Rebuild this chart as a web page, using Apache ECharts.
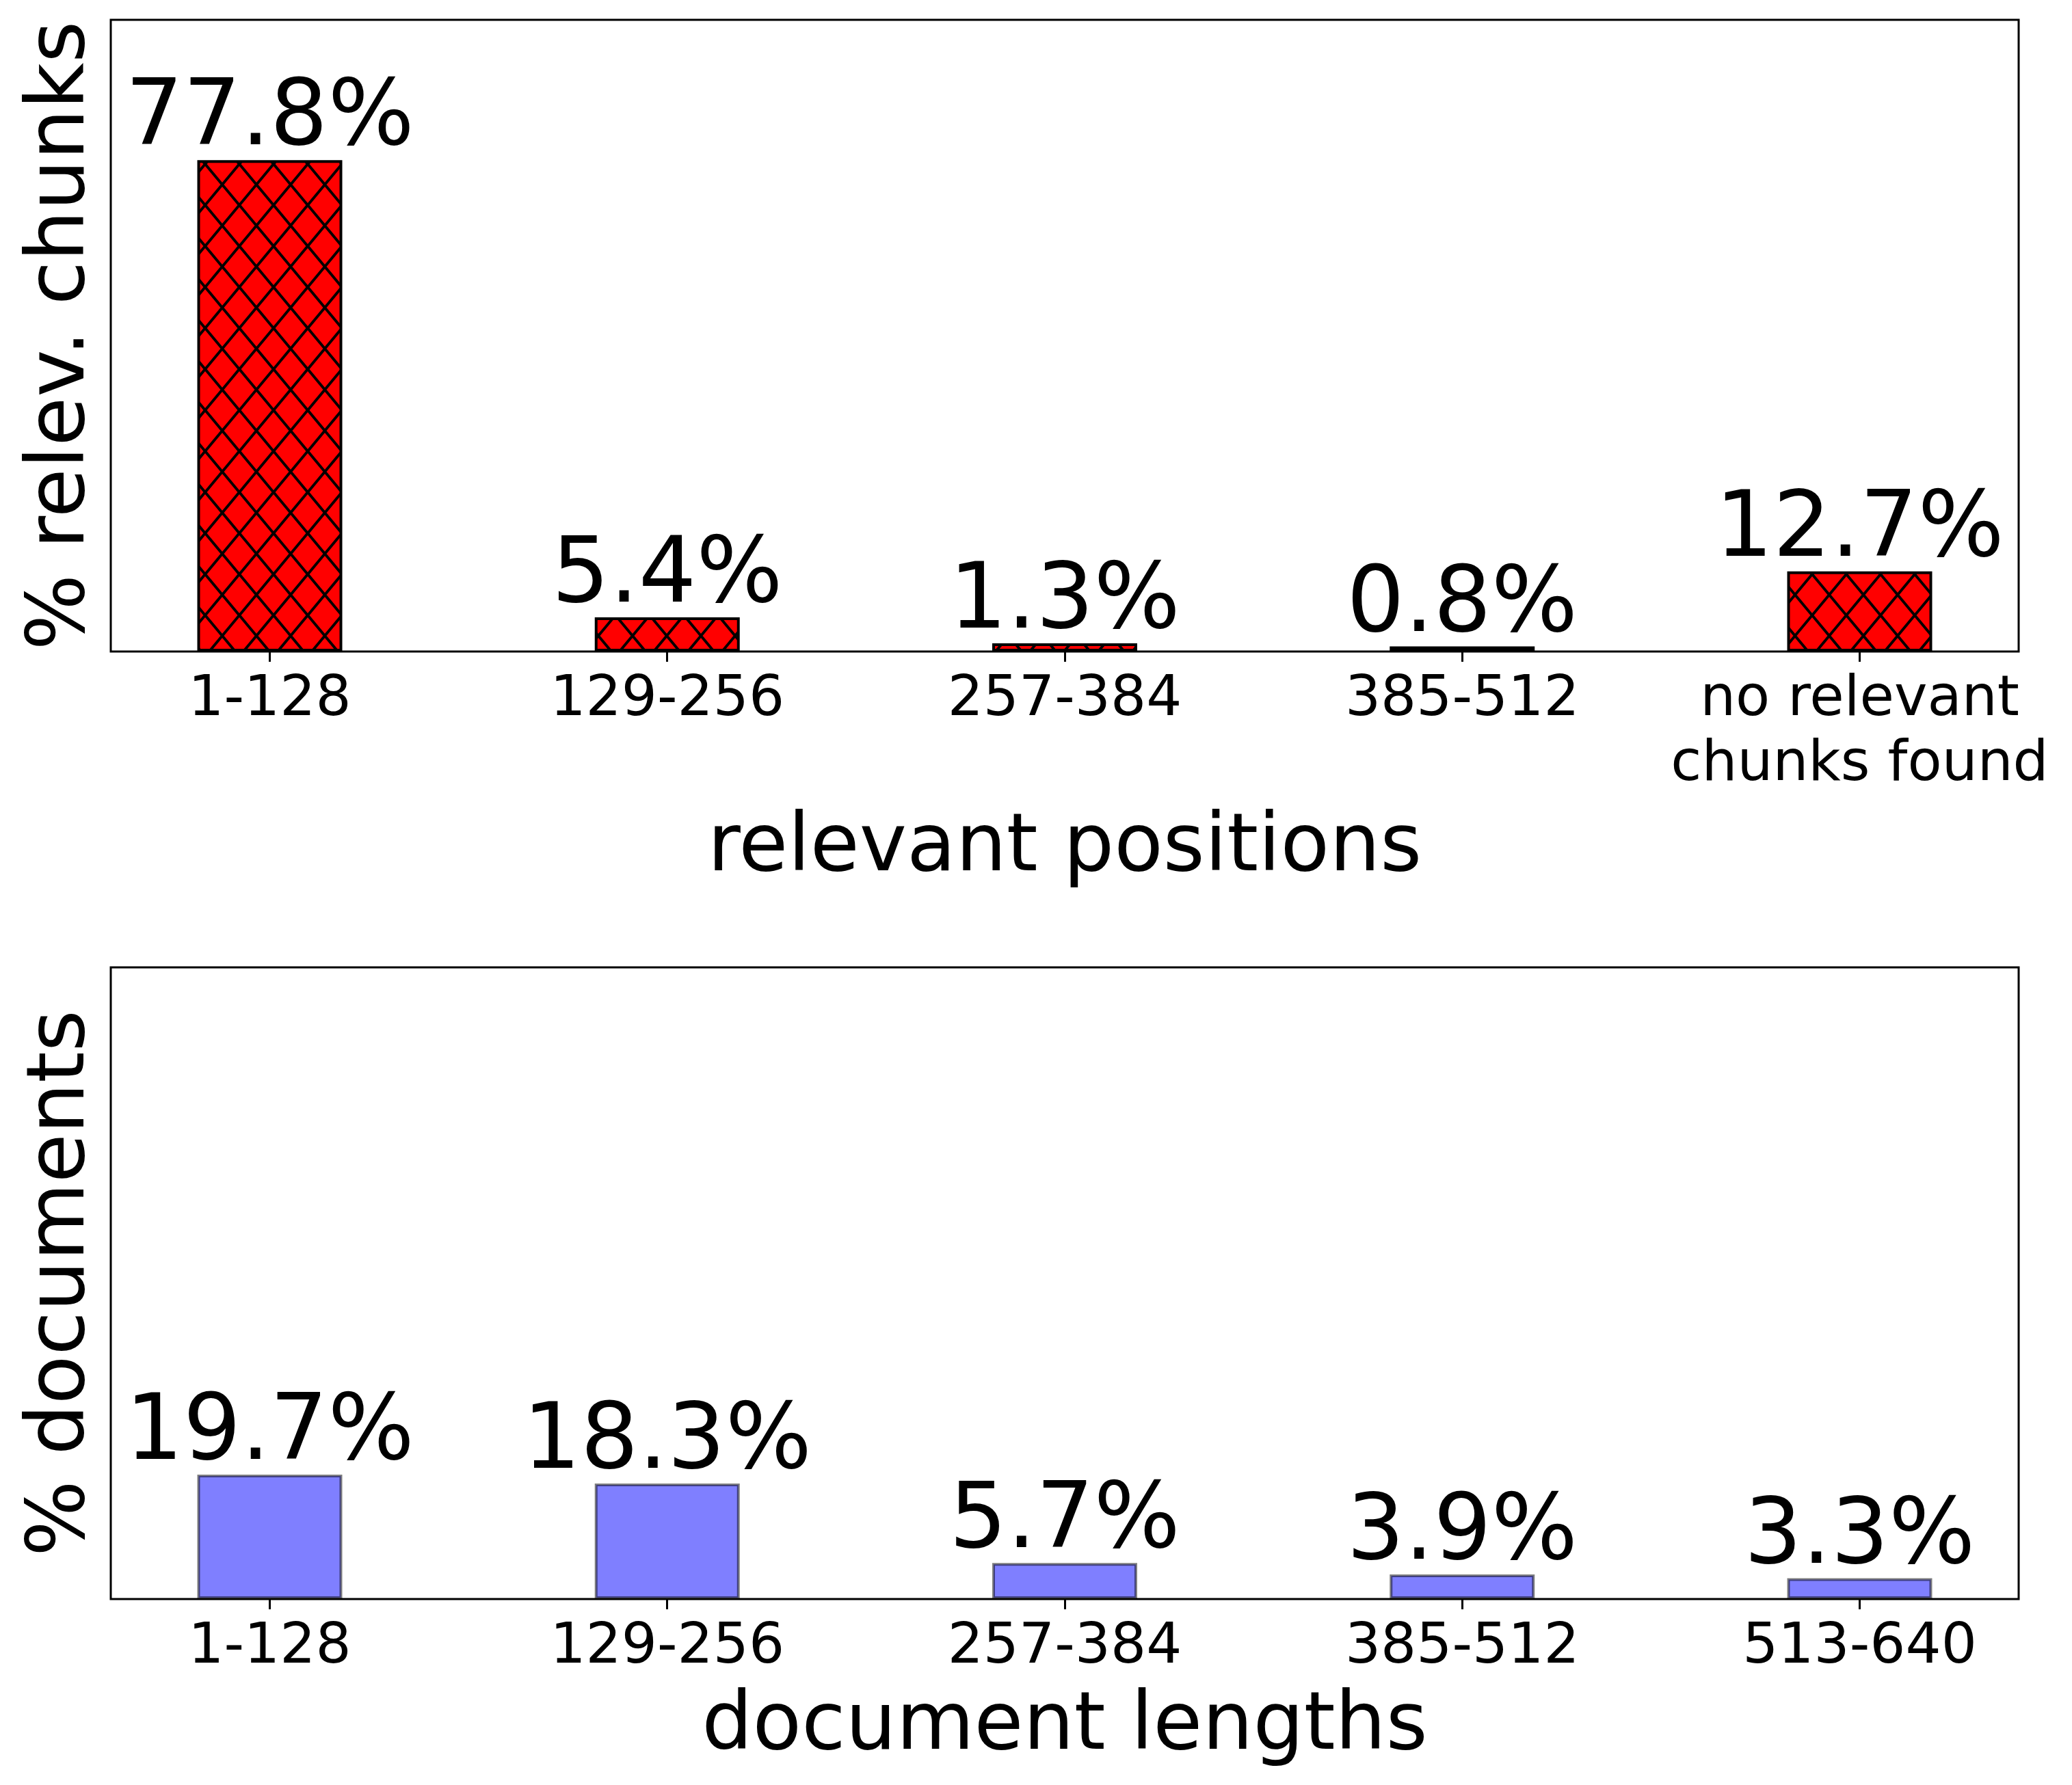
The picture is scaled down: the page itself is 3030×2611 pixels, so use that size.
<!DOCTYPE html>
<html>
<head>
<meta charset="utf-8">
<script src="https://cdn.jsdelivr.net/npm/echarts@6/dist/echarts.min.js"></script>
<style>
html,body{margin:0;padding:0;background:#fff;}
#c{width:3030px;height:2611px;}
</style>
</head>
<body>
<div id="c"></div>
<script>
// ---- data ----
const catsTop = ['1-128', '129-256', '257-384', '385-512', 'no relevant\nchunks found'];
const valsTop = [77.8, 5.4, 1.3, 0.8, 12.7];
const catsBot = ['1-128', '129-256', '257-384', '385-512', '513-640'];
const valsBot = [19.7, 18.3, 5.7, 3.9, 3.3];
const tickPos = [0, 1, 2, 3, 4];
const titleTopX = 'relevant positions';
const titleTopY = '% relev. chunks';
const titleBotX = 'document lengths';
const titleBotY = '% documents';

// ---- hatch pattern (matplotlib 'xx') ----
function hatch() {
  const c = document.createElement('canvas');
  c.width = 50; c.height = 60;
  const g = c.getContext('2d');
  g.fillStyle = '#ff0000';
  g.fillRect(0, 0, 50, 60);
  g.strokeStyle = '#000';
  g.lineWidth = 4;
  g.beginPath();
  for (const dx of [-50, 0, 50]) {
    for (const dy of [-60, 0, 60]) {
      g.moveTo(dx, dy); g.lineTo(dx + 50, dy + 60);
      g.moveTo(dx + 50, dy); g.lineTo(dx, dy + 60);
    }
  }
  g.stroke();
  return c;
}

const FONT = 'DejaVu Sans';
const chart = echarts.init(document.getElementById('c'));

function xAxisDef(gridIndex, cats, title, nameGap) {
  return {
    type: 'value', gridIndex: gridIndex, min: -0.4, max: 4.4,
    name: title, nameLocation: 'middle', nameGap: nameGap,
    nameTextStyle: {fontFamily: FONT, fontSize: 117, color: '#000'},
    axisLine: {show: false},
    splitLine: {show: false},
    axisTick: {show: true, customValues: tickPos, length: 15, lineStyle: {color: '#000', width: 3}},
    axisLabel: {
      show: true, customValues: tickPos, margin: 24,
      fontFamily: FONT, fontSize: 82, lineHeight: 95, color: '#000', align: 'center',
      formatter: function (v) { return cats[Math.round(v)]; }
    }
  };
}
function yAxisDef(gridIndex, title) {
  return {
    type: 'value', gridIndex: gridIndex, min: 0, max: 100,
    name: title, nameLocation: 'middle', nameGap: 12, nameRotate: 90,
    nameTextStyle: {fontFamily: FONT, fontSize: 117, color: '#000'},
    axisLine: {show: false}, axisTick: {show: false},
    axisLabel: {show: false}, splitLine: {show: false}
  };
}

const labelDef = {
  show: true, position: 'top', distance: -9,
  fontFamily: FONT, fontSize: 133, color: '#000',
  formatter: function (p) { return p.value[1].toFixed(1) + '%'; }
};

chart.setOption({
  animation: false,
  backgroundColor: '#fff',
  grid: [
    {left: 162, top: 29, width: 2790, height: 924, show: true, borderColor: '#000', borderWidth: 3, backgroundColor: 'transparent', outerBoundsMode: 'none'},
    {left: 162, top: 1415, width: 2790, height: 924, show: true, borderColor: '#000', borderWidth: 3, backgroundColor: 'transparent', outerBoundsMode: 'none'}
  ],
  xAxis: [
    xAxisDef(0, catsTop, titleTopX, 231),
    xAxisDef(1, catsBot, titleBotX, 130)
  ],
  yAxis: [
    yAxisDef(0, titleTopY),
    yAxisDef(1, titleBotY)
  ],
  series: [
    {
      type: 'bar', xAxisIndex: 0, yAxisIndex: 0, barWidth: 212,
      data: valsTop.map((v, i) => [tickPos[i], v]),
      itemStyle: {color: {image: hatch(), repeat: 'repeat'}, borderColor: '#000', borderWidth: 4},
      label: labelDef
    },
    {
      type: 'bar', xAxisIndex: 1, yAxisIndex: 1, barWidth: 212,
      data: valsBot.map((v, i) => [tickPos[i], v]),
      itemStyle: {color: 'rgba(0,0,255,0.5)', borderColor: 'rgba(0,0,0,0.5)', borderWidth: 4},
      label: labelDef
    }
  ]
});
</script>
</body>
</html>
